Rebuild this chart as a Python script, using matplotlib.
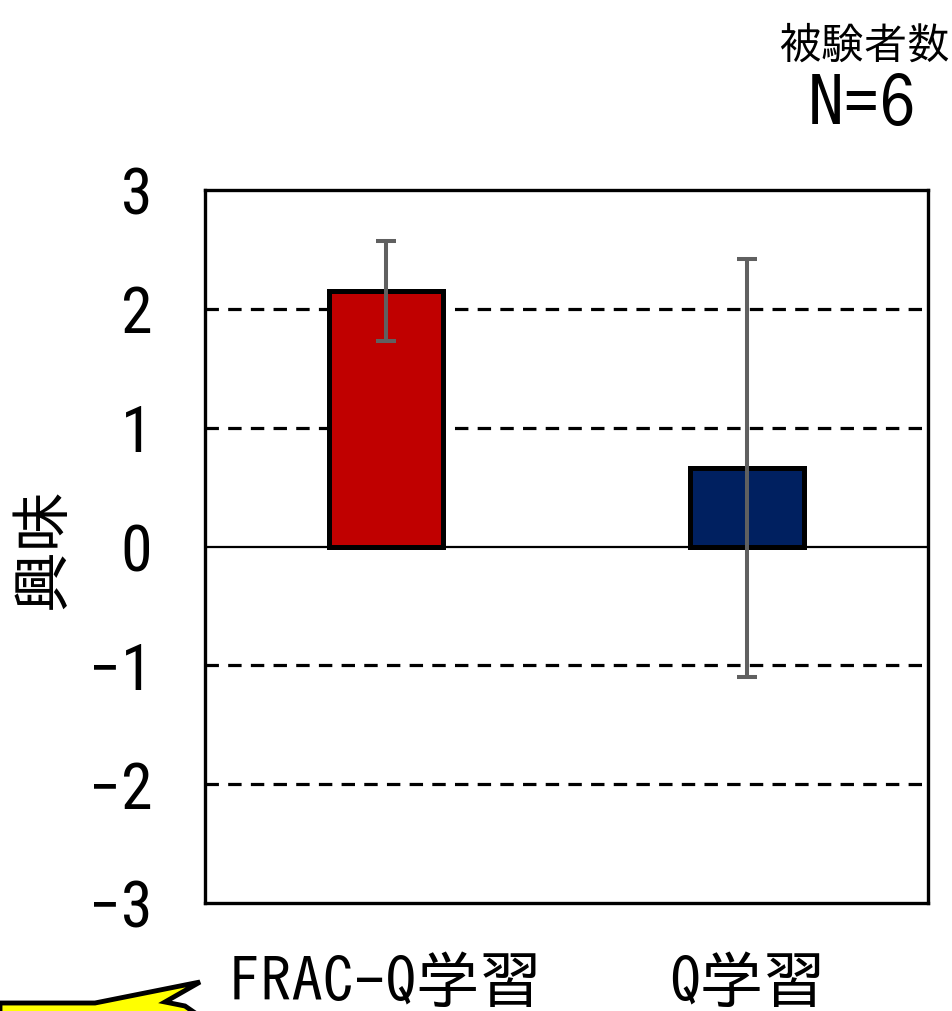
import matplotlib.pyplot as plt
from matplotlib.patches import Polygon

# data
categories = ['FRAC-Q学習', 'Q学習']
means = [2.15, 0.66]
errors = [0.42, 1.76]
colors = ['#C00000', '#002060']
yticks = [-3, -2, -1, 0, 1, 2, 3]

plt.rcParams['font.family'] = ['IPAGothic', 'Noto Sans CJK JP', 'DejaVu Sans']

fig = plt.figure(figsize=(9.52, 10.11), dpi=100)
W, H = 952, 1011
ax = fig.add_axes([205 / W, 1 - 903 / H, (928 - 205) / W, (903 - 190) / H])

x = list(range(len(categories)))

# grid lines
for yv in yticks[1:-1]:
    if yv == 0:
        ax.axhline(0, color='black', lw=1.6, zorder=1)
    else:
        ax.axhline(yv, color='black', lw=2.3, linestyle=(0, (4.2, 2.9)), zorder=1)

ax.bar(x, means, width=0.315, color=colors, edgecolor='black', linewidth=3.6, zorder=2)
ax.errorbar(x, means, yerr=errors, fmt='none', ecolor='#606060', elinewidth=2.9,
            capsize=7, capthick=2.9, zorder=3)

ax.set_xlim(-0.5, 1.5)
ax.set_ylim(-3, 3)
ax.set_yticks(yticks)
ax.set_yticklabels([str(v).replace('-', '\u2212') for v in yticks], fontsize=46,
                   family=['Roboto Condensed', 'IPAGothic'])
ax.set_xticks(x)
ax.set_xticklabels(categories, fontsize=45)
ax.tick_params(axis='both', length=0)
ax.tick_params(axis='y', pad=38)
ax.tick_params(axis='x', pad=36)
for s in ax.spines.values():
    s.set_linewidth(2.4)
    s.set_color('black')

fig.text(40 / W, 1 - 548 / H, '興味', fontsize=44, rotation=90, ha='center', va='center')

fig.text(864 / W, 1 - 43 / H, '被験者数', fontsize=31, ha='center', va='center')
fig.text(862 / W, 1 - 105 / H, 'N=6', fontsize=52, ha='center', va='center')

# yellow callout, cut off at the bottom left
pts = [(0, 1003), (95, 1003), (200, 982), (165, 1002), (185, 1006),
       (198, 1015), (198, 1030), (0, 1030)]
callout = Polygon([(px / W, 1 - py / H) for px, py in pts], closed=True,
                  facecolor='#FFFF00', edgecolor='black', linewidth=3.5,
                  transform=fig.transFigure, clip_on=False)
fig.add_artist(callout)

fig.savefig('out.png', dpi=100, facecolor='white')
